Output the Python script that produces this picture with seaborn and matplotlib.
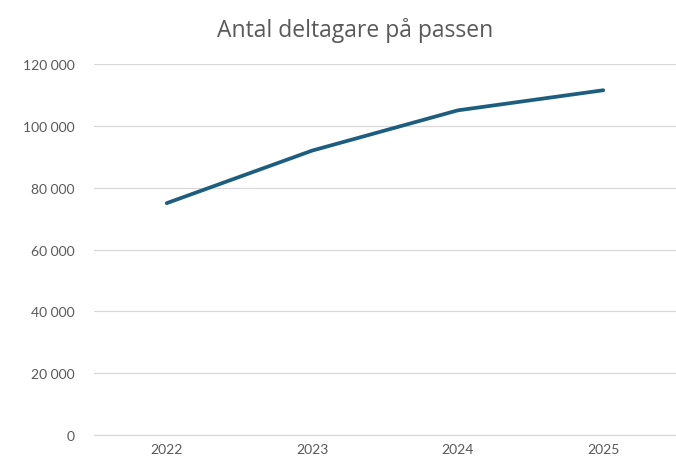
import matplotlib
matplotlib.use("Agg")
import matplotlib.pyplot as plt
import pandas as pd
import seaborn as sns

# data
years = ["2022", "2023", "2024", "2025"]
participants = [75000, 92000, 105000, 111500]
y_ticks = [0, 20000, 40000, 60000, 80000, 100000, 120000]

df = pd.DataFrame({"year": years, "participants": participants})

sns.set_theme(style="white")
plt.rcParams["font.family"] = ["Lato", "DejaVu Sans"]

fig = plt.figure(figsize=(6.76, 4.64), dpi=100)
ax = fig.add_axes([0.139, 0.06, 0.861, 0.80])

sns.lineplot(data=df, x="year", y="participants", color="#1d5e7f",
             linewidth=2.7, sort=False, ax=ax)

ax.set_xlim(-0.5, len(years) - 0.5)
ax.set_ylim(0, 120000)
ax.set_yticks(y_ticks)
ax.set_yticklabels([f"{v:,}".replace(",", " ") for v in y_ticks])
ax.yaxis.grid(True, color="#d9d9d9", linewidth=0.9)
ax.set_axisbelow(True)
for side in ["top", "right", "left"]:
    ax.spines[side].set_visible(False)
ax.spines["bottom"].set_color("#d9d9d9")
ax.spines["bottom"].set_linewidth(0.9)
ax.tick_params(axis="both", length=0, labelsize=10, colors="#595959")
ax.tick_params(axis="y", pad=14)
ax.tick_params(axis="x", pad=6)
ax.set_xlabel("")
ax.set_ylabel("")

fig.text(0.525, 0.935, "Antal deltagare på passen", ha="center", va="center",
         fontsize=16.5, color="#595959", fontweight="medium",
         family=["Open Sans", "DejaVu Sans"])

fig.savefig("out.png", dpi=100)
